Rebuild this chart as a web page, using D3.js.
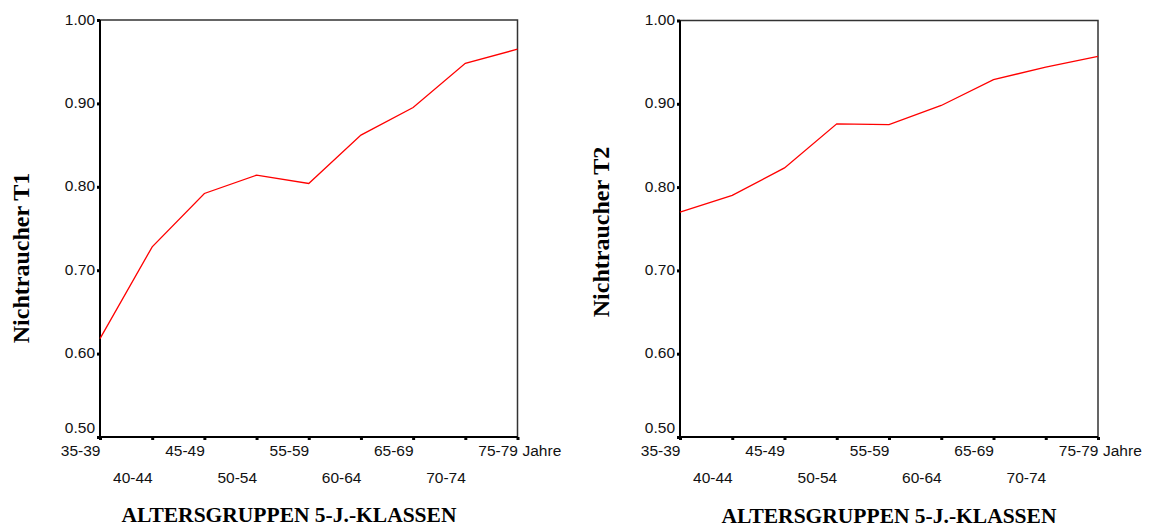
<!DOCTYPE html>
<html>
<head>
<meta charset="utf-8">
<script src="https://cdn.jsdelivr.net/npm/d3@7"></script>
<style>
  html, body { margin: 0; padding: 0; background: #fff; }
  svg { display: block; }
</style>
</head>
<body>
<svg id="chart" width="1149" height="528"></svg>
<script>
const categories = ["35-39", "40-44", "45-49", "50-54", "55-59", "60-64", "65-69", "70-74", "75-79"];
const t1Values = [0.618, 0.728, 0.792, 0.814, 0.804, 0.862, 0.895, 0.948, 0.965];
const t2Values = [0.770, 0.790, 0.823, 0.876, 0.875, 0.898, 0.929, 0.944, 0.957];
const yTicks = [0.5, 0.6, 0.7, 0.8, 0.9, 1.0];
const yTitles = ["Nichtraucher T1", "Nichtraucher T2"];
const xTitle = "ALTERSGRUPPEN 5-J.-KLASSEN";
const unitLabel = "Jahre";

const svg = d3.select("#chart");

const panels = [
  { values: t1Values, yTitle: yTitles[0], x0: 100, x1: 517.5, y0: 20, y1: 437, yTitleX: 29, yTitleY: 258, xTitleX: 289, xTitleY: 522 },
  { values: t2Values, yTitle: yTitles[1], x0: 680, x1: 1098, y0: 20.5, y1: 437, yTitleX: 609, yTitleY: 232, xTitleX: 889, xTitleY: 522.5 }
];

panels.forEach(p => {
  const g = svg.append("g");
  const x = d3.scalePoint().domain(categories).range([p.x0, p.x1]).padding(0);
  const y = d3.scaleLinear().domain([0.5, 1.0]).range([p.y1, p.y0]);

  // frame top/right
  g.append("path")
    .attr("d", `M${p.x0},${p.y0}H${p.x1}V${p.y1}`)
    .attr("fill", "none").attr("stroke", "#333").attr("stroke-width", 1.5);

  // y axis
  const yAxis = d3.axisLeft(y).tickValues(yTicks).tickFormat(d3.format(".2f")).tickSize(3).tickPadding(2);
  const ya = g.append("g").attr("transform", `translate(${p.x0},0)`).call(yAxis);
  ya.select(".domain").attr("stroke", "#000").attr("stroke-width", 2).attr("d", `M0,${p.y0}V${p.y1}`);
  ya.selectAll(".tick line").attr("stroke", "#000").attr("stroke-width", 3);
  ya.selectAll(".tick text")
    .attr("font-family", "'Liberation Sans', Arial, sans-serif").attr("font-size", 15.5).attr("fill", "#111")
    .attr("dy", null)
    .attr("y", d => d === 0.5 ? -5 : 4);

  // x axis
  const xAxis = d3.axisBottom(x).tickSize(3).tickPadding(0);
  const xa = g.append("g").attr("transform", `translate(0,${p.y1})`).call(xAxis);
  xa.select(".domain").attr("stroke", "#000").attr("stroke-width", 2).attr("d", `M${p.x0},0H${p.x1}`);
  xa.selectAll(".tick line").attr("stroke", "#000").attr("stroke-width", 3);
  xa.selectAll(".tick text")
    .attr("font-family", "'Liberation Sans', Arial, sans-serif").attr("font-size", 15.5).attr("fill", "#111")
    .attr("text-anchor", "end")
    .attr("dy", null)
    .attr("y", (d, i) => i % 2 === 0 ? 19 : 46);

  g.append("text")
    .attr("x", p.x1 + 5).attr("y", p.y1 + 19)
    .attr("font-family", "'Liberation Sans', Arial, sans-serif").attr("font-size", 15.5).attr("fill", "#111")
    .text(unitLabel);

  // line
  const line = d3.line().x((d, i) => x(categories[i])).y(d => y(d));
  g.append("path").datum(p.values)
    .attr("d", line).attr("fill", "none").attr("stroke", "#ff0000").attr("stroke-width", 1.3);

  // titles
  g.append("text")
    .attr("transform", `translate(${p.yTitleX},${p.yTitleY}) rotate(-90)`)
    .attr("text-anchor", "middle")
    .attr("font-family", "'Liberation Serif', 'Times New Roman', serif").attr("font-weight", "bold").attr("font-size", 24)
    .text(p.yTitle);

  g.append("text")
    .attr("x", p.xTitleX).attr("y", p.xTitleY)
    .attr("text-anchor", "middle")
    .attr("font-family", "'Liberation Serif', 'Times New Roman', serif").attr("font-weight", "bold").attr("font-size", 21.5)
    .text(xTitle);
});
</script>
</body>
</html>
